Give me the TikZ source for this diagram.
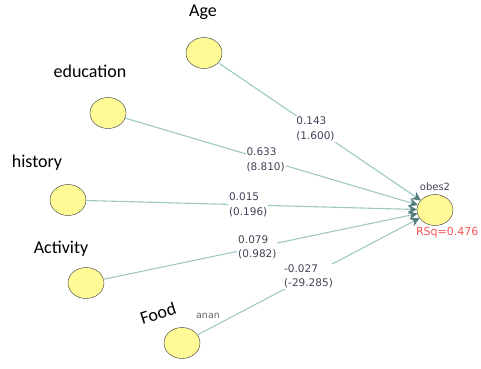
\documentclass[tikz,border=0pt]{standalone}
\usepackage{fontspec}
\setmainfont{Carlito}
\newfontfamily\numfont{DejaVu Sans}
\usetikzlibrary{arrows.meta,shapes.geometric}
\definecolor{nodefill}{RGB}{255,250,150}
\definecolor{edgeline}{RGB}{158,200,198}
\definecolor{edgetip}{RGB}{85,125,125}
\definecolor{valtext}{RGB}{66,66,88}
\definecolor{rsqred}{RGB}{250,85,85}

\begin{document}
\begin{tikzpicture}[x=1pt,y=-1pt,inner sep=0pt,outer sep=0pt,
varnode/.style={draw=gray!40!black,fill=nodefill,ellipse,minimum width=36pt,minimum height=31pt,thin},
varname/.style={font=\fontsize{18}{20}\selectfont},
coef/.style={draw=edgeline,line width=1.1pt,-{Stealth[length=9pt,width=9pt,color=edgetip]}},
coeflabel/.style={fill=white,align=left,inner sep=1pt,text=valtext,font=\numfont\fontsize{10.5}{14.5}\selectfont}]

\useasboundingbox (0,0) rectangle (481,368);

\draw (204,53) node[varnode] (age) {};
\draw (108,113) node[varnode] (edu) {};
\draw (68,200) node[varnode] (hist) {};
\draw (86,283) node[varnode] (act) {};
\draw (182,343) node[varnode] (food) {};
\draw (435,210) node[varnode] (obes) {};

\draw (203,12) node[varname] (agename) {Age};
\draw (90,71) node[varname] (eduname) {education};
\draw (37,163) node[varname] (histname) {history};
\draw (61,249) node[varname] (actname) {Activity};
\draw (158,313) node[varname,rotate=18] (foodname) {Food};
\draw (208,316) node[text=gray!80!black,font=\numfont\fontsize{9.5}{11}\selectfont] (foodtag) {anan};

\draw[coef] (age) -- node[coeflabel,pos=.48] (agecoef) {0.143\\(1.600)} (obes);
\draw[coef] (edu) -- node[coeflabel,pos=.48] (educoef) {0.633\\(8.810)} (obes);
\draw[coef] (hist) -- node[coeflabel,pos=.49] (histcoef) {0.015\\(0.196)} (obes);
\draw[coef] (act) -- node[coeflabel,pos=.49] (actcoef) {0.079\\(0.982)} (obes);
\draw[coef] (food) -- node[coeflabel,pos=.5] (foodcoef) {-0.027\\(-29.285)} (obes);

\draw (obes.north) node[above=4pt,text=valtext,font=\numfont\fontsize{10}{12}\selectfont] (obesname) {obes2};
\draw (416,227) node[anchor=north west,text=rsqred,font=\numfont\fontsize{11}{13}\selectfont] (rsq) {RSq=0.476};
\end{tikzpicture}
\end{document}
